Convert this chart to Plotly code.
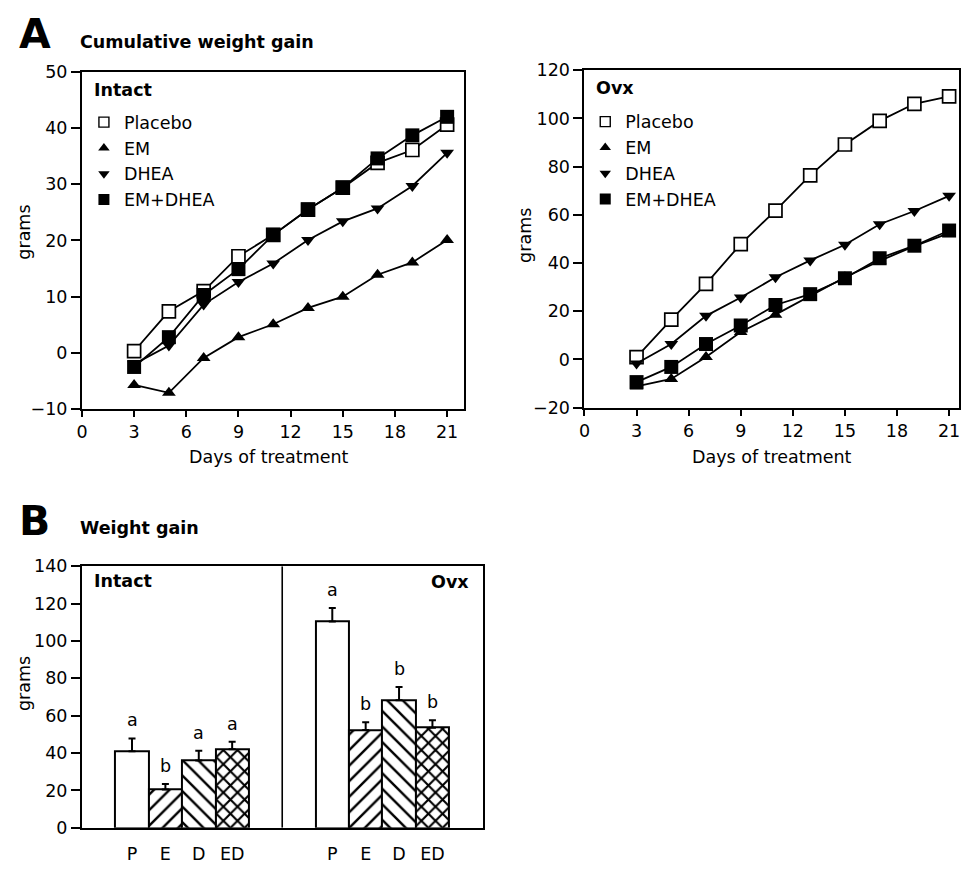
import plotly.graph_objects as go

# ---------------- data ----------------
days = [3, 5, 7, 9, 11, 13, 15, 17, 19, 21]
treatments = ["Placebo", "EM", "DHEA", "EM+DHEA"]

intact_placebo = [0.3, 7.4, 11.0, 17.2, 21.0, 25.5, 29.4, 33.8, 36.1, 40.6]
intact_em = [-5.7, -7.1, -0.9, 2.8, 5.1, 8.0, 10.0, 13.9, 16.1, 20.1]
intact_dhea = [-2.0, 1.3, 8.6, 12.6, 15.9, 20.1, 23.4, 25.7, 29.7, 35.6]
intact_emdhea = [-2.5, 2.8, 10.3, 14.9, 21.0, 25.5, 29.4, 34.6, 38.7, 42.0]

ovx_placebo = [1.0, 16.5, 31.4, 47.9, 61.8, 76.4, 89.2, 99.0, 106.1, 109.2]
ovx_em = [-11.2, -8.1, 1.0, 11.4, 18.6, 26.4, 34.1, 40.9, 47.0, 52.4]
ovx_dhea = [-1.7, 6.4, 18.1, 25.7, 34.1, 41.1, 47.6, 56.1, 61.6, 67.9]
ovx_emdhea = [-9.4, -3.1, 6.4, 14.1, 22.6, 27.1, 33.7, 42.0, 47.2, 53.5]

day_ticks = [0, 3, 6, 9, 12, 15, 18, 21]

bar_groups = ["Intact", "Ovx"]
bar_labels = ["P", "E", "D", "ED"]
intact_gain = [41.0, 20.5, 36.0, 42.1]
intact_sem = [6.8, 3.0, 5.2, 4.0]
intact_letters = ["a", "b", "a", "a"]
ovx_gain = [110.4, 52.3, 68.2, 53.6]
ovx_sem = [7.2, 4.2, 7.1, 4.0]
ovx_letters = ["a", "b", "b", "b"]

# ---------------- styles ----------------
W, H = 961, 871
FONT = "DejaVu Sans, Liberation Sans, Arial, sans-serif"
FS = 17.5


def px(x):
    return x / W


def py(y):
    return 1 - y / H


marker_styles = {
    "Placebo": dict(symbol="square", color="white", size=13, line=dict(color="black", width=1.7)),
    "EM": dict(symbol="triangle-up", color="black", size=12, line=dict(color="black", width=0)),
    "DHEA": dict(symbol="triangle-down", color="black", size=12, line=dict(color="black", width=0)),
    "EM+DHEA": dict(symbol="square", color="black", size=14, line=dict(color="black", width=0)),
}
legend_marker_styles = {
    "Placebo": dict(symbol="square", color="white", size=10, line=dict(color="black", width=1.4)),
    "EM": dict(symbol="triangle-up", color="black", size=10, line=dict(color="black", width=0)),
    "DHEA": dict(symbol="triangle-down", color="black", size=10, line=dict(color="black", width=0)),
    "EM+DHEA": dict(symbol="square", color="black", size=11, line=dict(color="black", width=0)),
}
bar_patterns = {
    "P": dict(shape="", size=11, solidity=0.2),
    "E": dict(shape="/", size=11, solidity=0.22),
    "D": dict(shape="\\", size=11, solidity=0.22),
    "ED": dict(shape="x", size=10, solidity=0.38),
}

fig = go.Figure()

# ---------------- Panel A line charts ----------------
panels = [
    ("x", "y", "legend", [intact_placebo, intact_em, intact_dhea, intact_emdhea]),
    ("x2", "y2", "legend2", [ovx_placebo, ovx_em, ovx_dhea, ovx_emdhea]),
]
for xa, ya, lg, series in panels:
    for name, vals in zip(treatments, series):
        fig.add_trace(go.Scatter(
            x=days, y=vals, mode="lines+markers", name=name,
            line=dict(color="black", width=1.8),
            marker=marker_styles[name],
            xaxis=xa, yaxis=ya, showlegend=False, cliponaxis=False,
        ))
    for name in treatments:
        fig.add_trace(go.Scatter(
            x=[None], y=[None], mode="markers", name=name,
            marker=legend_marker_styles[name],
            xaxis=xa, yaxis=ya, showlegend=True, legend=lg,
        ))

# ---------------- Panel B bars ----------------
n_t = len(bar_labels)
group_step = n_t + 2
positions = {}
for gi, g in enumerate(bar_groups):
    for ti, t in enumerate(bar_labels):
        positions[(g, t)] = gi * group_step + ti + 1

group_vals = {"Intact": (intact_gain, intact_sem, intact_letters),
              "Ovx": (ovx_gain, ovx_sem, ovx_letters)}

for ti, t in enumerate(bar_labels):
    xs = [positions[(g, t)] for g in bar_groups]
    ys = [group_vals[g][0][ti] for g in bar_groups]
    es = [group_vals[g][1][ti] for g in bar_groups]
    fig.add_trace(go.Bar(
        x=xs, y=ys, width=1.0, name=t, showlegend=False,
        marker=dict(color="white", line=dict(color="black", width=2),
                    pattern=dict(fgcolor="black", bgcolor="white", fillmode="replace",
                                 **bar_patterns[t])),
        error_y=dict(type="data", array=es, arrayminus=[0] * len(es), symmetric=False,
                     color="black", thickness=2, width=3.5),
        xaxis="x3", yaxis="y3",
    ))

annotations = []
for g in bar_groups:
    vals, sems, letters = group_vals[g]
    for ti, t in enumerate(bar_labels):
        annotations.append(dict(
            x=positions[(g, t)], y=vals[ti] + sems[ti], xref="x3", yref="y3",
            text=letters[ti], showarrow=False, yanchor="bottom", yshift=6,
            font=dict(size=FS, color="black", family=FONT),
        ))

divider_x = (positions[(bar_groups[0], bar_labels[-1])] + positions[(bar_groups[1], bar_labels[0])]) / 2
fig.add_shape(type="line", x0=divider_x, x1=divider_x, y0=0, y1=140,
              xref="x3", yref="y3", line=dict(color="black", width=1.6))

# ---------------- text annotations ----------------
def txt(x, y, text, size=FS, bold=False, xanchor="left", angle=0):
    annotations.append(dict(
        x=px(x), y=py(y), xref="paper", yref="paper",
        text=f"<b>{text}</b>" if bold else text, showarrow=False,
        xanchor=xanchor, yanchor="middle", textangle=angle,
        font=dict(size=size, color="black", family=FONT),
    ))


txt(11, 25, "A", size=41, bold=True)
txt(73, 33, "Cumulative weight gain", bold=True)
txt(11, 523, "B", size=41, bold=True)
txt(73, 530, "Weight gain", bold=True)
txt(87, 82, "Intact", bold=True)
txt(592, 80, "Ovx", bold=True)
txt(87, 584, "Intact", bold=True)
txt(468, 585, "Ovx", bold=True, xanchor="right")
txt(265, 458, "Days of treatment", xanchor="center")
txt(772, 457, "Days of treatment", xanchor="center")
txt(18, 227, "grams", xanchor="center", angle=-90)
txt(523, 231, "grams", xanchor="center", angle=-90)
txt(18, 689, "grams", xanchor="center", angle=-90)

axis_common = dict(
    showline=True, linecolor="black", linewidth=2, mirror=True,
    showgrid=False, zeroline=False, ticks="outside", tickwidth=1.6,
    tickcolor="black", tickfont=dict(size=FS, color="black", family=FONT),
)
xcommon = {**axis_common, "ticklen": 6}
ycommon = {**axis_common, "ticklen": 9}

fig.update_layout(
    width=W, height=H, margin=dict(l=0, r=0, t=0, b=0),
    paper_bgcolor="white", plot_bgcolor="white",
    font=dict(family=FONT, size=FS, color="black"),
    barmode="overlay", bargap=0,
    annotations=annotations,
    xaxis=dict(domain=[px(76.5), px(461)], range=[0, 21.95], tickvals=day_ticks,
               anchor="y", **xcommon),
    yaxis=dict(domain=[py(408.5), py(63.3)], range=[-10, 50], dtick=10,
               anchor="x", **ycommon),
    xaxis2=dict(domain=[px(582.7), px(960)], range=[0, 21.57], tickvals=day_ticks,
                anchor="y2", **xcommon),
    yaxis2=dict(domain=[py(407), py(61.7)], range=[-20, 120], dtick=20,
                anchor="x2", **ycommon),
    xaxis3=dict(domain=[px(76.5), px(480)], range=[-0.5, 11.5],
                tickvals=[positions[(g, t)] for g in bar_groups for t in bar_labels],
                ticktext=[t for g in bar_groups for t in bar_labels],
                anchor="y3", **{**xcommon, "tickcolor": "rgba(0,0,0,0)", "ticklen": 9}),
    yaxis3=dict(domain=[py(837), py(569.3)], range=[0, 140], dtick=20,
                anchor="x3", **ycommon),
    legend=dict(x=px(78.5), y=py(96.5), xanchor="left", yanchor="top",
                bgcolor="rgba(0,0,0,0)", font=dict(size=FS, family=FONT, color="black"),
                tracegroupgap=0, itemclick=False),
    legend2=dict(x=px(583.5), y=py(96), xanchor="left", yanchor="top",
                 bgcolor="rgba(0,0,0,0)", font=dict(size=FS, family=FONT, color="black"),
                 tracegroupgap=0, itemclick=False),
)

fig.write_html(
    "out.html",
    config={"displayModeBar": False},
    post_script="document.body.style.margin='0';document.body.style.overflow='hidden';",
)
